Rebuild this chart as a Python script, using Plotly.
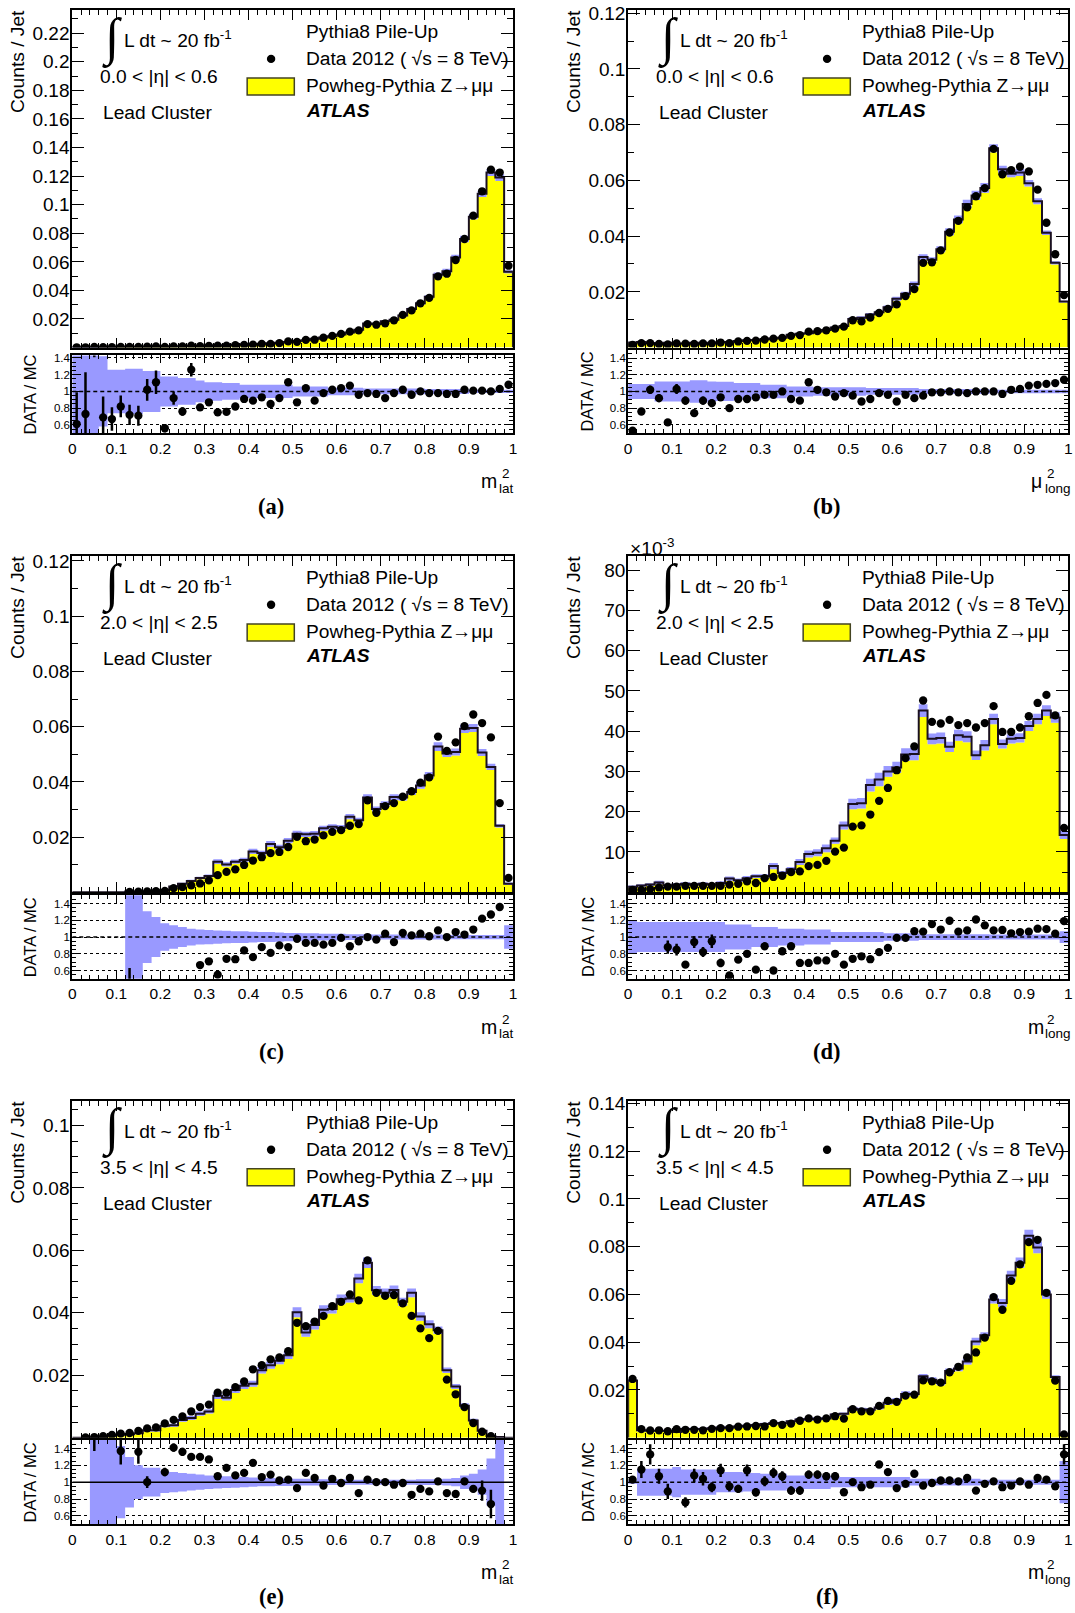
import plotly.graph_objects as go

W, H = 1075, 1613
FONT = "Liberation Sans, Arial, Helvetica, sans-serif"
SERIF = "Liberation Serif, Times New Roman, serif"

# ---------------- binning ----------------
bin_edges = [i / 50 for i in range(51)]
bin_centers = [(bin_edges[i] + bin_edges[i + 1]) / 2 for i in range(50)]
x_tick_vals = [i / 10 for i in range(11)]
x_tick_text = ["0", "0.1", "0.2", "0.3", "0.4", "0.5", "0.6", "0.7", "0.8", "0.9", "1"]
ratio_tick_vals = [0.6, 0.8, 1.0, 1.2, 1.4]
ratio_tick_text = ["0.6", "0.8", "1", "1.2", "1.4"]

# ---------------- panel (a): m2_lat, 0.0<|eta|<0.6 ----------------
mc_a = [0.0003, 0.0003, 0.0003, 0.0004, 0.0004, 0.0005, 0.0005, 0.0006, 0.0006, 0.0007,
        0.0008, 0.0009, 0.0010, 0.0011, 0.0012, 0.0013, 0.0015, 0.0017, 0.0019, 0.0021,
        0.0024, 0.0027, 0.0030, 0.0034, 0.0039, 0.0046, 0.0052, 0.0062, 0.0070, 0.0080,
        0.0092, 0.0105, 0.0125, 0.0168, 0.0165, 0.0185, 0.0195, 0.0225, 0.0270, 0.0310,
        0.0355, 0.0510, 0.0535, 0.0630, 0.0760, 0.0916, 0.1076, 0.1225, 0.1190, 0.0530]
data_a = [0.0002, 0.0002, 0.0005, 0.0003, 0.0003, 0.0004, 0.0004, 0.0004, 0.0006, 0.0008,
          0.0005, 0.0008, 0.0008, 0.0014, 0.0010, 0.0011, 0.0013, 0.0014, 0.0017, 0.0019,
          0.0021, 0.0025, 0.0026, 0.0031, 0.0043, 0.0040, 0.0054, 0.0055, 0.0069, 0.0082,
          0.0096, 0.0112, 0.0120, 0.0164, 0.0160, 0.0170, 0.0191, 0.0229, 0.0260, 0.0310,
          0.0348, 0.0498, 0.0517, 0.0613, 0.0760, 0.0923, 0.1094, 0.1245, 0.1225, 0.0573]
ratio_a = [0.61, 0.73, 1.75, 0.69, 0.67, 0.82, 0.72, 0.71, 1.02, 1.11,
           0.56, 0.92, 0.76, 1.26, 0.81, 0.87, 0.75, 0.755, 0.82, 0.91,
           0.89, 0.93, 0.85, 0.92, 1.11, 0.87, 1.04, 0.89, 0.98, 1.02,
           1.04, 1.07, 0.96, 0.98, 0.97, 0.92, 0.98, 1.02, 0.96, 1.00,
           0.98, 0.98, 0.97, 0.97, 1.02, 1.01, 1.01, 1.00, 1.03, 1.08]
rerr_a = [0.38, 0.50, 0.34, 0.25, 0.14, 0.13, 0.12, 0.12, 0.13, 0.14,
          0.05, 0.08, 0.05, 0.08, 0.03, 0.04, 0.02, 0.02, 0.02, 0.02,
          0.02, 0.02, 0.02, 0.02, 0.02, 0.01, 0.01, 0.01, 0.01, 0.01,
          0.01, 0.01, 0.01, 0.01, 0.01, 0.01, 0.01, 0.01, 0.01, 0.01,
          0.01, 0.01, 0.01, 0.01, 0.01, 0.01, 0.01, 0.01, 0.01, 0.01]
band_a = [0.60, 0.60, 0.60, 0.42, 0.26, 0.26, 0.27, 0.27, 0.245, 0.245,
          0.18, 0.18, 0.16, 0.16, 0.13, 0.11, 0.11, 0.10, 0.10, 0.08,
          0.08, 0.08, 0.08, 0.08, 0.08, 0.06, 0.06, 0.06, 0.06, 0.045,
          0.045, 0.045, 0.045, 0.035, 0.035, 0.035, 0.035, 0.035, 0.035, 0.035,
          0.03, 0.03, 0.03, 0.03, 0.03, 0.02, 0.02, 0.02, 0.02, 0.02]
yt_a = [0.02, 0.04, 0.06, 0.08, 0.10, 0.12, 0.14, 0.16, 0.18, 0.20, 0.22]
ytxt_a = ["0.02", "0.04", "0.06", "0.08", "0.1", "0.12", "0.14", "0.16", "0.18", "0.2", "0.22"]

# ---------------- panel (b): mu2_long, 0.0<|eta|<0.6 ----------------
mc_b = [0.0018, 0.0020, 0.0016, 0.0014, 0.0017, 0.0015, 0.0015, 0.0017, 0.0016, 0.0017,
        0.0019, 0.0020, 0.0024, 0.0026, 0.0027, 0.0030, 0.0033, 0.0035, 0.0046, 0.0050,
        0.0051, 0.0058, 0.0063, 0.0072, 0.0077, 0.0103, 0.0107, 0.0119, 0.0127, 0.0145,
        0.0175, 0.0193, 0.0228, 0.0325, 0.0315, 0.0353, 0.0416, 0.0460, 0.0515, 0.0546,
        0.0573, 0.0715, 0.0640, 0.0624, 0.0628, 0.0590, 0.0525, 0.0412, 0.0304, 0.0165]
data_b = [0.0010, 0.0016, 0.0016, 0.0013, 0.0011, 0.0015, 0.0014, 0.0013, 0.0015, 0.0015,
          0.0018, 0.0016, 0.0022, 0.0024, 0.0025, 0.0029, 0.0032, 0.0035, 0.0042, 0.0045,
          0.0057, 0.0059, 0.0062, 0.0068, 0.0075, 0.0098, 0.0094, 0.0108, 0.0124, 0.0139,
          0.0155, 0.0185, 0.0210, 0.0304, 0.0306, 0.0349, 0.0413, 0.0455, 0.0503, 0.0543,
          0.0572, 0.0713, 0.0622, 0.0637, 0.0649, 0.0632, 0.0567, 0.0448, 0.0335, 0.0188]
ratio_b = [0.53, 0.76, 1.02, 0.92, 0.63, 1.03, 0.89, 0.74, 0.89, 0.86,
           0.93, 0.80, 0.91, 0.91, 0.93, 0.96, 0.96, 1.00, 0.91, 0.89,
           1.11, 1.02, 0.99, 0.94, 0.98, 0.95, 0.88, 0.91, 0.98, 0.96,
           0.88, 0.96, 0.92, 0.95, 0.99, 0.99, 1.00, 0.99, 0.98, 1.00,
           1.00, 1.00, 0.97, 1.02, 1.03, 1.07, 1.08, 1.09, 1.10, 1.14]
rerr_b = [0.02, 0.03, 0.05, 0.05, 0.03, 0.06, 0.05, 0.04, 0.05, 0.05,
          0.04, 0.03, 0.02, 0.02, 0.02, 0.02, 0.02, 0.02, 0.02, 0.02,
          0.01, 0.01, 0.01, 0.01, 0.01, 0.01, 0.01, 0.01, 0.01, 0.01,
          0.01, 0.01, 0.01, 0.01, 0.01, 0.01, 0.01, 0.01, 0.01, 0.01,
          0.01, 0.01, 0.01, 0.01, 0.01, 0.01, 0.01, 0.01, 0.01, 0.01]
band_b = [0.09, 0.09, 0.09, 0.12, 0.12, 0.12, 0.12, 0.135, 0.135, 0.12,
          0.115, 0.115, 0.10, 0.10, 0.10, 0.08, 0.08, 0.08, 0.06, 0.06,
          0.06, 0.05, 0.05, 0.05, 0.05, 0.05, 0.05, 0.04, 0.04, 0.04,
          0.04, 0.04, 0.04, 0.03, 0.03, 0.03, 0.03, 0.03, 0.03, 0.03,
          0.03, 0.02, 0.02, 0.02, 0.02, 0.02, 0.02, 0.02, 0.02, 0.02]
yt_b = [0.02, 0.04, 0.06, 0.08, 0.10, 0.12]
ytxt_b = ["0.02", "0.04", "0.06", "0.08", "0.1", "0.12"]

# ---------------- panel (c): m2_lat, 2.0<|eta|<2.5 ----------------
mc_c = [0.0, 0.0, 0.0, 0.0, 0.0, 0.0, 0.0003, 0.0003, 0.0004, 0.0006,
        0.0008, 0.0021, 0.0031, 0.0041, 0.0052, 0.0059, 0.0111, 0.0101, 0.0111, 0.0117,
        0.0148, 0.0142, 0.0175, 0.0163, 0.0187, 0.0212, 0.0210, 0.0212, 0.0232, 0.0237,
        0.0234, 0.0274, 0.0261, 0.0343, 0.0302, 0.0320, 0.0345, 0.0343, 0.0363, 0.0387,
        0.0423, 0.0528, 0.0503, 0.0508, 0.0592, 0.0595, 0.0506, 0.0454, 0.0241, 0.0031]
data_c = [None, None, None, None, None, None, 0.0001, 0.0002, 0.0003, 0.0004,
          0.0005, 0.0015, 0.0019, 0.0025, 0.0032, 0.0043, 0.0062, 0.0074, 0.0083, 0.0099,
          0.0115, 0.0127, 0.0142, 0.0146, 0.0164, 0.0201, 0.0185, 0.0191, 0.0206, 0.0219,
          0.0225, 0.0241, 0.0247, 0.0333, 0.0288, 0.0312, 0.0323, 0.0346, 0.0366, 0.0397,
          0.0416, 0.0564, 0.0512, 0.0543, 0.0602, 0.0644, 0.0613, 0.0561, 0.0323, 0.0052]
ratio_c = [None, None, None, None, None, None, 0.30, None, None, None,
           None, None, None, None, 0.665, 0.71, 0.55, 0.74, 0.735, 0.84,
           0.76, 0.88, 0.81, 0.90, 0.88, 0.98, 0.93, 0.93, 0.91, 0.93,
           0.99, 0.89, 0.95, 1.00, 0.97, 1.04, 0.94, 1.05, 1.02, 1.04,
           1.01, 1.08, 1.00, 1.06, 1.03, 1.09, 1.22, 1.27, 1.36, None]
rerr_c = [0.0, 0.0, 0.0, 0.0, 0.0, 0.0, 0.33, 0.0, 0.0, 0.0,
          0.0, 0.0, 0.0, 0.0, 0.02, 0.02, 0.02, 0.02, 0.02, 0.02,
          0.02, 0.02, 0.02, 0.01, 0.01, 0.01, 0.01, 0.01, 0.01, 0.01,
          0.01, 0.01, 0.01, 0.01, 0.01, 0.01, 0.01, 0.01, 0.01, 0.01,
          0.01, 0.01, 0.01, 0.01, 0.01, 0.01, 0.01, 0.01, 0.02, 0.0]
band_c = [0.0, 0.0, 0.0, 0.0, 0.0, 0.0, 0.60, 0.60, 0.31, 0.24,
          0.165, 0.14, 0.12, 0.10, 0.09, 0.085, 0.08, 0.075, 0.07, 0.07,
          0.065, 0.06, 0.06, 0.055, 0.05, 0.05, 0.045, 0.045, 0.04, 0.04,
          0.04, 0.035, 0.035, 0.035, 0.03, 0.03, 0.03, 0.03, 0.03, 0.03,
          0.03, 0.03, 0.025, 0.025, 0.025, 0.025, 0.025, 0.025, 0.025, 0.14]
yt_c = [0.02, 0.04, 0.06, 0.08, 0.10, 0.12]
ytxt_c = ["0.02", "0.04", "0.06", "0.08", "0.1", "0.12"]

# ---------------- panel (d): m2_long, 2.0<|eta|<2.5  (units of 1e-3) ----------------
mc_d = [1.4, 1.7, 1.9, 2.4, 1.7, 1.9, 2.1, 1.9, 2.1, 1.9,
        2.3, 3.4, 3.0, 3.5, 4.0, 4.0, 6.5, 4.8, 5.7, 7.5,
        9.5, 9.8, 10.9, 12.8, 16.6, 21.9, 22.1, 26.6, 28.0, 30.0,
        31.0, 34.2, 34.3, 45.1, 38.1, 38.3, 36.1, 39.0, 38.6, 34.0,
        36.5, 43.0, 36.8, 38.1, 38.3, 41.3, 43.0, 45.1, 43.4, 14.2]
data_d = [0.6, 0.6, 0.8, 1.2, 1.4, 1.4, 1.6, 1.6, 1.6, 1.6,
          1.6, 1.9, 2.1, 2.7, 2.3, 3.5, 3.8, 4.1, 5.0, 5.2,
          6.5, 6.8, 7.8, 10.1, 11.1, 16.3, 16.6, 19.3, 22.7, 25.9,
          30.3, 33.3, 36.2, 47.6, 42.3, 41.9, 42.8, 41.5, 42.0, 40.9,
          42.0, 46.2, 39.8, 39.8, 40.9, 43.7, 47.0, 49.0, 43.9, 16.0]
ratio_d = [None, None, None, None, 0.88, 0.85, 0.67, 0.94, 0.82, 0.95,
           0.69, 0.54, 0.73, 0.80, 0.61, 0.89, 0.60, 0.83, 0.89, 0.69,
           0.69, 0.72, 0.72, 0.80, 0.67, 0.74, 0.77, 0.735, 0.82, 0.87,
           0.99, 0.99, 1.07, 1.065, 1.155, 1.09, 1.195, 1.065, 1.08, 1.21,
           1.14, 1.08, 1.085, 1.045, 1.06, 1.065, 1.10, 1.095, 1.04, 1.19]
rerr_d = [0.0, 0.0, 0.0, 0.0, 0.08, 0.07, 0.04, 0.07, 0.06, 0.08,
          0.05, 0.03, 0.04, 0.04, 0.03, 0.03, 0.02, 0.02, 0.02, 0.02,
          0.02, 0.02, 0.02, 0.02, 0.02, 0.01, 0.01, 0.01, 0.01, 0.01,
          0.01, 0.01, 0.01, 0.01, 0.01, 0.01, 0.01, 0.01, 0.01, 0.01,
          0.01, 0.01, 0.01, 0.01, 0.01, 0.01, 0.01, 0.01, 0.01, 0.01]
band_d = [0.20, 0.18, 0.18, 0.18, 0.18, 0.18, 0.18, 0.18, 0.18, 0.18,
          0.18, 0.15, 0.15, 0.15, 0.12, 0.12, 0.12, 0.10, 0.10, 0.10,
          0.09, 0.09, 0.09, 0.06, 0.06, 0.06, 0.06, 0.06, 0.06, 0.045,
          0.045, 0.045, 0.045, 0.035, 0.035, 0.035, 0.035, 0.035, 0.035, 0.035,
          0.035, 0.03, 0.03, 0.03, 0.03, 0.03, 0.03, 0.03, 0.03, 0.07]
yt_d = [10, 20, 30, 40, 50, 60, 70, 80]
ytxt_d = ["10", "20", "30", "40", "50", "60", "70", "80"]

# ---------------- panel (e): m2_lat, 3.5<|eta|<4.5 ----------------
mc_e = [0.0, 0.0, 0.0001, 0.0003, 0.0006, 0.0009, 0.0011, 0.0014, 0.0024, 0.0024,
        0.0038, 0.0040, 0.0057, 0.0063, 0.0077, 0.0084, 0.0134, 0.0128, 0.0153, 0.0166,
        0.0173, 0.0216, 0.0232, 0.0246, 0.0264, 0.0402, 0.0337, 0.0361, 0.0410, 0.0412,
        0.0443, 0.0446, 0.0510, 0.0560, 0.0472, 0.0464, 0.0473, 0.0435, 0.0464, 0.0388,
        0.0363, 0.0344, 0.0216, 0.0164, 0.0102, 0.0055, 0.0022, 0.0005, 0.0002, 0.0]
data_e = [None, 0.0001, 0.0002, 0.0005, 0.0009, 0.0013, 0.0015, 0.0022, 0.0030, 0.0033,
          0.0046, 0.0057, 0.0068, 0.0084, 0.0098, 0.0106, 0.0144, 0.0144, 0.0162, 0.0180,
          0.0219, 0.0232, 0.0251, 0.0257, 0.0277, 0.0368, 0.0357, 0.0372, 0.0390, 0.0421,
          0.0435, 0.0459, 0.0440, 0.0568, 0.0464, 0.0454, 0.0457, 0.0430, 0.0390, 0.0350,
          0.0319, 0.0342, 0.0186, 0.0139, 0.0098, 0.0047, 0.0019, 0.0005, None, None]
ratio_e = [None, None, 1.70, None, None, 1.37, None, 1.36, 1.00, None,
           1.12, 1.41, 1.36, 1.30, 1.30, 1.27, 1.07, 1.17, 1.08, 1.11,
           1.23, 1.06, 1.09, 1.02, 1.03, 0.93, 1.11, 1.05, 0.96, 1.04,
           0.99, 1.05, 0.87, 1.03, 1.00, 1.00, 0.97, 0.99, 0.85, 0.92,
           0.89, 1.01, 0.87, 0.86, 1.01, 0.92, 0.90, 0.74, None, None]
rerr_e = [0.0, 0.0, 0.33, 0.0, 0.0, 0.16, 0.0, 0.14, 0.07, 0.0,
          0.05, 0.05, 0.05, 0.04, 0.03, 0.03, 0.02, 0.02, 0.02, 0.02,
          0.02, 0.02, 0.01, 0.01, 0.01, 0.01, 0.01, 0.01, 0.01, 0.01,
          0.01, 0.01, 0.01, 0.01, 0.01, 0.01, 0.01, 0.01, 0.01, 0.01,
          0.01, 0.01, 0.01, 0.02, 0.03, 0.04, 0.12, 0.17, 0.0, 0.0]
band_e = [0.0, 0.0, 0.60, 0.60, 0.60, 0.43, 0.30, 0.20, 0.17, 0.17,
          0.13, 0.12, 0.11, 0.10, 0.09, 0.08, 0.075, 0.07, 0.065, 0.06,
          0.055, 0.05, 0.05, 0.045, 0.045, 0.04, 0.04, 0.04, 0.035, 0.035,
          0.035, 0.03, 0.03, 0.03, 0.03, 0.03, 0.03, 0.03, 0.03, 0.035,
          0.035, 0.035, 0.04, 0.05, 0.08, 0.10, 0.15, 0.28, 0.60, 0.0]
yt_e = [0.02, 0.04, 0.06, 0.08, 0.10]
ytxt_e = ["0.02", "0.04", "0.06", "0.08", "0.1"]

# ---------------- panel (f): m2_long, 3.5<|eta|<4.5 ----------------
mc_f = [0.0240, 0.0031, 0.0029, 0.0029, 0.0029, 0.0024, 0.0036, 0.0036, 0.0036, 0.0039,
        0.0043, 0.0043, 0.0047, 0.0050, 0.0053, 0.0057, 0.0060, 0.0061, 0.0069, 0.0076,
        0.0077, 0.0079, 0.0080, 0.0097, 0.0100, 0.0121, 0.0118, 0.0117, 0.0126, 0.0146,
        0.0157, 0.0183, 0.0183, 0.0257, 0.0243, 0.0229, 0.0279, 0.0290, 0.0319, 0.0403,
        0.0429, 0.0579, 0.0564, 0.0679, 0.0733, 0.0846, 0.0797, 0.0600, 0.0254, 0.0010]
data_f = [0.0246, 0.0036, 0.0030, 0.0031, 0.0027, 0.0036, 0.0033, 0.0033, 0.0031, 0.0037,
          0.0040, 0.0040, 0.0046, 0.0047, 0.0049, 0.0047, 0.0061, 0.0054, 0.0059, 0.0071,
          0.0081, 0.0076, 0.0081, 0.0090, 0.0080, 0.0119, 0.0110, 0.0110, 0.0133, 0.0154,
          0.0150, 0.0176, 0.0180, 0.0240, 0.0236, 0.0231, 0.0274, 0.0297, 0.0336, 0.0357,
          0.0419, 0.0589, 0.0536, 0.0657, 0.0726, 0.0819, 0.0829, 0.0607, 0.0239, 0.0014]
ratio_f = [1.03, 1.15, 1.33, 1.07, 0.89, None, 0.76, 1.08, 1.04, 0.94,
           1.14, 0.95, 0.92, 1.14, 0.88, 1.01, 1.11, 1.07, 0.90, 0.90,
           1.09, 1.09, 1.07, 1.07, 0.88, 1.00, 0.94, 0.97, 1.21, 1.12,
           0.93, 0.98, 1.10, 0.96, 0.99, 1.02, 1.02, 1.01, 1.05, 0.90,
           0.98, 1.01, 0.94, 0.96, 1.01, 0.97, 1.05, 1.03, 0.95, 1.33]
rerr_f = [0.02, 0.10, 0.12, 0.09, 0.09, 0.0, 0.06, 0.08, 0.08, 0.06,
          0.08, 0.06, 0.05, 0.07, 0.05, 0.06, 0.06, 0.06, 0.05, 0.05,
          0.05, 0.05, 0.05, 0.05, 0.04, 0.03, 0.03, 0.03, 0.03, 0.03,
          0.03, 0.02, 0.02, 0.02, 0.02, 0.02, 0.02, 0.02, 0.02, 0.02,
          0.02, 0.02, 0.02, 0.02, 0.02, 0.02, 0.02, 0.02, 0.02, 0.12]
band_f = [0.02, 0.16, 0.16, 0.16, 0.16, 0.18, 0.15, 0.15, 0.15, 0.15,
          0.12, 0.12, 0.12, 0.11, 0.11, 0.10, 0.10, 0.10, 0.08, 0.08,
          0.08, 0.08, 0.08, 0.06, 0.06, 0.06, 0.06, 0.06, 0.06, 0.06,
          0.06, 0.06, 0.04, 0.04, 0.04, 0.04, 0.04, 0.04, 0.04, 0.04,
          0.03, 0.03, 0.03, 0.03, 0.03, 0.03, 0.03, 0.03, 0.03, 0.25]
yt_f = [0.02, 0.04, 0.06, 0.08, 0.10, 0.12, 0.14]
ytxt_f = ["0.02", "0.04", "0.06", "0.08", "0.1", "0.12", "0.14"]

# ---------------- layout (target pixel boxes in the photographed page) ----------------
COL_X = [(72.7, 512.9), (628.0, 1067.8)]
MAIN_Y = [(10.2, 347.5), (556.3, 892.4), (1101.3, 1438.0)]
ROW_DY = [0, 546.1, 1091.2]
COL_DX = [0, 555.4]
# measured page-to-photo correction (offset, scale) so targets land where intended
PX_OFF, PX_SC = 4.5, 0.9915
PY_OFF, PY_SC = 7.8, 0.9954

panels = [
    dict(lab="(a)", mc=mc_a, data=data_a, ratio=ratio_a, rerr=rerr_a, band=band_a,
         yt=yt_a, ytxt=ytxt_a, ymax=0.236, yminor=0.01, eta="0.0 < |η| < 0.6",
         var="m", sub="lat", col=0, row=0, rbox=(355.4, 433.2), rmax=1.43, solid=False),
    dict(lab="(b)", mc=mc_b, data=data_b, ratio=ratio_b, rerr=rerr_b, band=band_b,
         yt=yt_b, ytxt=ytxt_b, ymax=0.121, yminor=0.01, eta="0.0 < |η| < 0.6",
         var="μ", sub="long", col=1, row=0, rbox=(349.6, 433.2), rmax=1.5, solid=False),
    dict(lab="(c)", mc=mc_c, data=data_c, ratio=ratio_c, rerr=rerr_c, band=band_c,
         yt=yt_c, ytxt=ytxt_c, ymax=0.1217, yminor=0.01, eta="2.0 < |η| < 2.5",
         var="m", sub="lat", col=0, row=1, rbox=(895.4, 979.0), rmax=1.5, solid=False),
    dict(lab="(d)", mc=mc_d, data=data_d, ratio=ratio_d, rerr=rerr_d, band=band_d,
         yt=yt_d, ytxt=ytxt_d, ymax=83.4, yminor=5, eta="2.0 < |η| < 2.5",
         var="m", sub="long", col=1, row=1, rbox=(895.4, 979.0), rmax=1.5, solid=False),
    dict(lab="(e)", mc=mc_e, data=data_e, ratio=ratio_e, rerr=rerr_e, band=band_e,
         yt=yt_e, ytxt=ytxt_e, ymax=0.1078, yminor=0.005, eta="3.5 < |η| < 4.5",
         var="m", sub="lat", col=0, row=2, rbox=(1440.4, 1524.6), rmax=1.5, solid=True),
    dict(lab="(f)", mc=mc_f, data=data_f, ratio=ratio_f, rerr=rerr_f, band=band_f,
         yt=yt_f, ytxt=ytxt_f, ymax=0.141, yminor=0.01, eta="3.5 < |η| < 4.5",
         var="m", sub="long", col=1, row=2, rbox=(1440.4, 1524.6), rmax=1.5, solid=False),
]

YELLOW = "#FFFF00"
BAND = "#9999FF"
OUTLINE = "#1a1020"
TXT = 19.2


def fx(x):
    return ((x - PX_OFF) / PX_SC) / W


def fy(y):
    return 1 - ((y - PY_OFF) / PY_SC) / H


def aname(k, n):
    return k if n == 1 else f"{k}{n}"


def lkey(k, n):
    return f"{k}axis" if n == 1 else f"{k}axis{n}"


def step(v):
    return list(v) + [v[-1]]


fig = go.Figure()
layout = {}
annotations = []
shapes = []

base_axis = dict(showline=True, linecolor="black", linewidth=2, mirror="allticks",
                 ticks="inside", tickcolor="black", tickwidth=1, zeroline=False,
                 showgrid=False, fixedrange=True)


def ann(text, x, y, size=TXT, xanchor="left", yanchor="middle", family=FONT, angle=0):
    annotations.append(dict(text=text, x=fx(x), y=fy(y), xref="paper", yref="paper",
                            xanchor=xanchor, yanchor=yanchor, showarrow=False,
                            textangle=angle, font=dict(family=family, size=size, color="black")))


for i, P in enumerate(panels):
    nm, nr = 2 * i + 1, 2 * i + 2
    x0, x1 = COL_X[P["col"]]
    mt, mb = MAIN_Y[P["row"]]
    rt, rb = P["rbox"]
    dx, dy = COL_DX[P["col"]], ROW_DY[P["row"]]
    xa_m, ya_m = aname("x", nm), aname("y", nm)
    xa_r, ya_r = aname("x", nr), aname("y", nr)

    # axes
    layout[lkey("x", nm)] = dict(base_axis, domain=[fx(x0), fx(x1)], anchor=ya_m, range=[0, 1],
                                 tickvals=x_tick_vals, showticklabels=False, ticklen=10,
                                 minor=dict(tick0=0, dtick=0.02, ticks="inside", ticklen=5,
                                            tickcolor="black"))
    layout[lkey("y", nm)] = dict(base_axis, domain=[fy(mb), fy(mt)], anchor=xa_m,
                                 range=[0, P["ymax"]], tickvals=P["yt"], ticktext=P["ytxt"],
                                 ticklen=12, tickfont=dict(family=FONT, size=19, color="black"),
                                 ticklabelstandoff=-3,
                                 minor=dict(tick0=0, dtick=P["yminor"], ticks="inside", ticklen=6,
                                            tickcolor="black"))
    layout[lkey("x", nr)] = dict(base_axis, domain=[fx(x0), fx(x1)], anchor=ya_r, range=[0, 1],
                                 tickvals=x_tick_vals, ticktext=x_tick_text, ticklen=8,
                                 tickfont=dict(family=FONT, size=15.5, color="black"),
                                 ticklabelstandoff=0,
                                 minor=dict(tick0=0, dtick=0.02, ticks="inside", ticklen=4,
                                            tickcolor="black"))
    layout[lkey("y", nr)] = dict(base_axis, domain=[fy(rb), fy(rt)], anchor=xa_r,
                                 range=[0.5, P["rmax"]], tickvals=ratio_tick_vals,
                                 ticktext=ratio_tick_text, ticklen=9,
                                 tickfont=dict(family=FONT, size=11.5, color="black"),
                                 ticklabelstandoff=-2,
                                 showgrid=True, gridcolor="black", griddash="dot", gridwidth=1,
                                 minor=dict(tick0=0, dtick=0.05, ticks="inside", ticklen=4,
                                            tickcolor="black"))

    # main histogram: yellow fill, blue uncertainty band, outline, data
    mc, band = P["mc"], P["band"]
    lo = [m * (1 - e) for m, e in zip(mc, band)]
    hi = [m * (1 + e) for m, e in zip(mc, band)]
    fig.add_trace(go.Scatter(x=bin_edges, y=step(lo), mode="lines",
                             line=dict(width=0, shape="hv"), fill="tozeroy", fillcolor=YELLOW,
                             xaxis=xa_m, yaxis=ya_m, hoverinfo="skip"))
    fig.add_trace(go.Scatter(x=bin_edges, y=step(hi), mode="lines",
                             line=dict(width=0, shape="hv"), fill="tonexty", fillcolor=BAND,
                             xaxis=xa_m, yaxis=ya_m, hoverinfo="skip"))
    fig.add_trace(go.Scatter(x=[0] + bin_edges + [1], y=[0] + list(mc) + [mc[-1], 0],
                             mode="lines", line=dict(width=2, color=OUTLINE, shape="hv"),
                             xaxis=xa_m, yaxis=ya_m, hoverinfo="skip"))
    fig.add_trace(go.Scatter(x=bin_centers, y=P["data"], mode="markers",
                             marker=dict(color="black", size=8.3), xaxis=xa_m, yaxis=ya_m))

    # ratio panel
    rlo = [1 - e for e in band]
    rhi = [1 + e for e in band]
    fig.add_trace(go.Scatter(x=bin_edges, y=step(rlo), mode="lines",
                             line=dict(width=0, shape="hv"), xaxis=xa_r, yaxis=ya_r,
                             hoverinfo="skip"))
    fig.add_trace(go.Scatter(x=bin_edges, y=step(rhi), mode="lines",
                             line=dict(width=0, shape="hv"), fill="tonexty", fillcolor=BAND,
                             xaxis=xa_r, yaxis=ya_r, hoverinfo="skip"))
    fig.add_trace(go.Scatter(x=bin_centers, y=P["ratio"], mode="markers",
                             marker=dict(color="black", size=8.3),
                             error_y=dict(type="data", array=P["rerr"], visible=True,
                                          thickness=2.5, width=0, color="black"),
                             xaxis=xa_r, yaxis=ya_r))
    shapes.append(dict(type="line", xref=xa_r, yref=ya_r, x0=0, x1=1, y0=1, y1=1,
                       layer="above",
                       line=dict(color="black", width=1.5,
                                 dash="solid" if P["solid"] else "4px,3px")))

    # texts
    ann("∫", 112.6 + dx, 37.5 + dy, size=52, xanchor="center", family=SERIF)
    ann("L dt ~ 20 fb<sup>-1</sup>", 122 + dx, 39 + dy)
    ann(P["eta"], 98.5 + dx, 76.8 + dy)
    ann("Lead Cluster", 101.5 + dx, 112.6 + dy)
    ann("Pythia8 Pile-Up", 304 + dx, 31.7 + dy)
    ann("Data 2012 ( √s = 8 TeV)", 304 + dx, 58.7 + dy)
    ann("Powheg-Pythia Z→μμ", 304 + dx, 85.3 + dy)
    ann("<b><i>ATLAS</i></b>", 304 + dx, 109.9 + dy)
    shapes.append(dict(type="circle", xref="paper", yref="paper",
                       x0=fx(267.1 + dx), x1=fx(275.5 + dx), y0=fy(62.9 + dy), y1=fy(54.5 + dy),
                       fillcolor="black", line=dict(width=0)))
    shapes.append(dict(type="rect", xref="paper", yref="paper",
                       x0=fx(247.4 + dx), x1=fx(294.5 + dx), y0=fy(94.9 + dy), y1=fy(77.8 + dy),
                       fillcolor=YELLOW, line=dict(width=1.5, color="#444422")))
    ann("Counts / Jet", 17.9 + dx, 61.4 + dy, size=TXT, xanchor="center", angle=-90)
    ann("DATA / MC", 30.7 + dx + (1.7 if P["col"] else 0), (rt + rb) / 2, size=16.5,
        xanchor="center", angle=-90)
    # x-axis title: letter with stacked superscript 2 and subscript
    if P["col"] == 0:
        xv, x2, xs = x1 - 23.6, x1 - 7.1, x1 - 6.7
    else:
        xv, x2, xs = x1 - 32, x1 - 17.5, x1 - 10.5
    ann(P["var"], xv, rb + 48, size=19.5, xanchor="center")
    ann("2", x2, rb + 40.5, size=13.5, xanchor="center")
    ann(P["sub"], xs, rb + 55, size=13.5, xanchor="center")
    # panel label
    ann("<b>" + P["lab"] + "</b>", 271.6 + dx, 506 + dy, size=22.5, xanchor="center",
        family=SERIF)

# multiplier for panel (d)
ann("×10<sup>-3</sup>", 627.5, 547, size=TXT)

fig.update_layout(width=W, height=H, margin=dict(l=0, r=0, t=0, b=0),
                  paper_bgcolor="white", plot_bgcolor="white", showlegend=False,
                  annotations=annotations, shapes=shapes,
                  font=dict(family=FONT, color="black"), **layout)

fig.write_html(
    "out.html",
    config={"displayModeBar": False, "responsive": False},
    post_script=(
        "document.documentElement.style.margin='0';"
        "document.documentElement.style.overflow='hidden';"
        "document.body.style.margin='0';document.body.style.padding='0';"
        "var gd=document.getElementById('{plot_id}');"
        "gd.style.position='absolute';gd.style.left='0px';gd.style.top='0px';"
    ),
)
